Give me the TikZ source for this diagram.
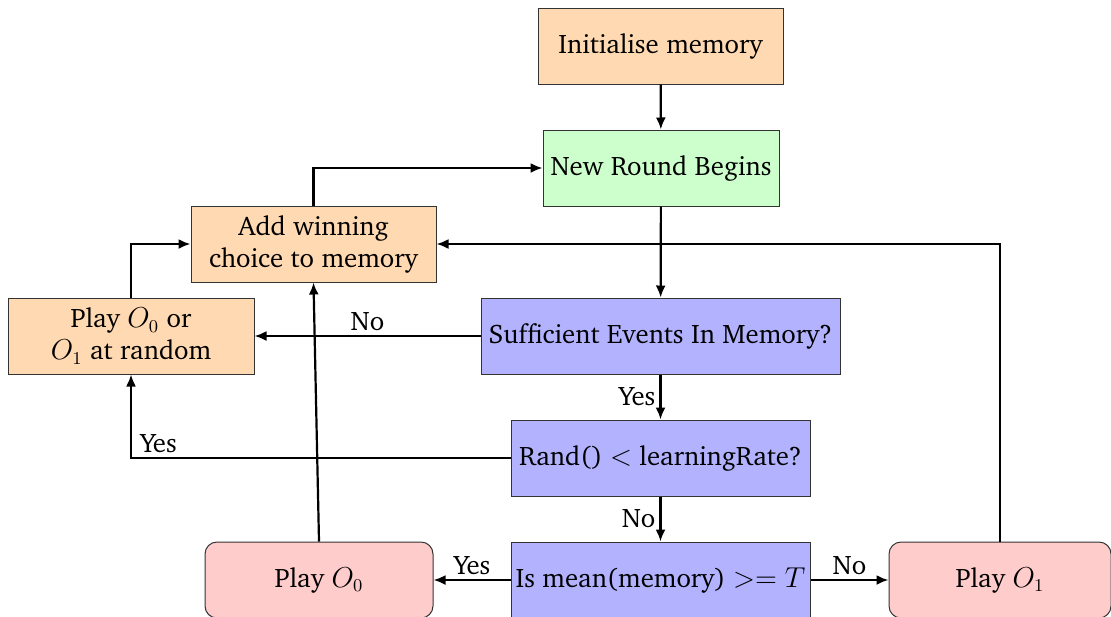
\documentclass[tikz,border=0pt]{standalone}
\usepackage[T1]{fontenc}
\usepackage{charter}
\usetikzlibrary{arrows.meta}
\tikzset{
  box/.style={draw=black!80, line width=0.5pt, minimum height=38pt, inner sep=2pt,
    align=center, font=\fontsize{13.4}{16}\selectfont},
  act/.style={box, fill=orange!30},
  start/.style={box, fill=green!20},
  test/.style={box, fill=blue!30},
  play/.style={box, fill=red!20, rounded corners=6pt},
  flow/.style={line width=1.1pt, -{Latex[length=6pt,width=5pt]}},
  lbl/.style={font=\fontsize{13.4}{16}\selectfont, inner sep=2pt}
}
\begin{document}
\begin{tikzpicture}[x=0.5pt, y=-0.5pt]
  \useasboundingbox (0,0) rectangle (1111,616);
  \clip (0,0) rectangle (1111,616);

  \node[act, minimum width=122.5pt] (init) at (660.5,46) {Initialise memory};
  \node[start, minimum width=118pt] (round) at (661,168) {New Round Begins};
  \node[act, minimum width=122.5pt] (add) at (313.5,244) {Add winning\\choice to memory};
  \node[act, minimum width=123pt] (rnd) at (131,336) {Play $O_0$ or\\$O_1$ at random};
  \node[test, minimum width=179.5pt] (enough) at (660.5,336) {Sufficient Events In Memory?};
  \node[test, minimum width=149.5pt] (learn) at (660.5,458) {Rand() $<$ learningRate?};
  \node[test, minimum width=149.5pt] (mean) at (660.5,580) {Is mean(memory) $>=T$};
  \node[play, minimum width=114pt] (p0) at (319,580) {Play $O_0$};
  \node[play, minimum width=111pt] (p1) at (1000,580) {Play $O_1$};

  \draw[flow] (init) -- (round);
  \draw[flow] (round) -- (enough);
  \draw[flow] (enough) -- node[lbl, above] {No} (rnd);
  \draw[flow] (enough) -- node[lbl, left] {Yes} (learn);
  \draw[flow] (learn.west) -| node[lbl, pos=0.5, above right, xshift=2pt] {Yes} (rnd.south);
  \draw[flow] (learn) -- node[lbl, left] {No} (mean);
  \draw[flow] (mean) -- node[lbl, above] {Yes} (p0);
  \draw[flow] (mean) -- node[lbl, above] {No} (p1);
  \draw[flow] (p0.north) -- (add.south);
  \draw[flow] (p1.north) |- (add.east);
  \draw[flow] (rnd.north) |- (add.west);
  \draw[flow] (add.north) |- (round.west);
\end{tikzpicture}
\end{document}
